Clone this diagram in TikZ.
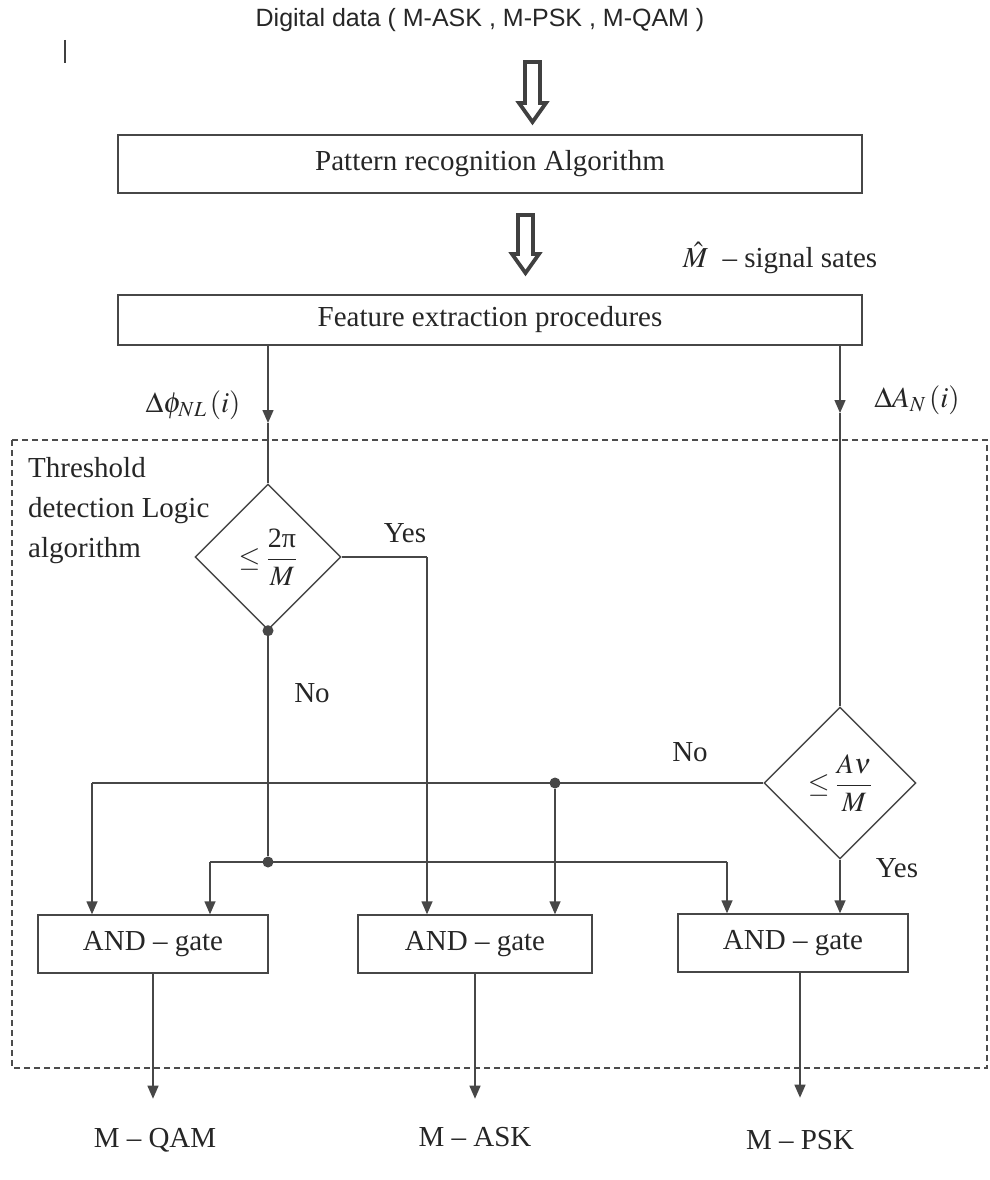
\documentclass[tikz,border=0pt]{standalone}
\usepackage{mathptmx}
\usepackage{fontspec}
\setmainfont{Liberation Serif}
\newfontfamily\arialfont{Liberation Sans}
\usetikzlibrary{shapes.geometric,arrows.meta,calc}
\begin{document}
\begin{tikzpicture}[x=1pt,y=-1pt,
  every node/.style={text=black!85},
  ln/.style={draw=black!72, line width=1.4pt},
  arr/.style={ln, -{Triangle[length=13pt,width=11pt]}},
  boxn/.style={draw=black!72, line width=1.4pt, rectangle, inner sep=0pt, font=\fontsize{29}{34}\selectfont},
  dia/.style={draw=black!72, line width=1.4pt, diamond, inner sep=0pt, aspect=1, font=\fontsize{28}{32}\selectfont},
  lab/.style={font=\fontsize{29}{34}\selectfont, inner sep=0pt},
  dotn/.style={circle, fill=black!72, inner sep=0pt, minimum size=11pt},
  hollow/.style={draw=black!75, line width=3.8pt, fill=white, line join=miter},
]
\useasboundingbox (0,0) rectangle (989,1180);

% title
\node[font=\arialfont\fontsize{25}{30}\selectfont, inner sep=0pt] (top) at (480,20) {Digital data ( M-ASK , M-PSK , M-QAM )};
\draw[draw=black!75, line width=1.5pt] (65,40) -- (65,63);

% hollow arrows
\draw[hollow] (525,62) -- (540,62) -- (540,103) -- (546,103) -- (532.5,122) -- (519,103) -- (525,103) -- cycle;
\draw[hollow] (518,215) -- (533,215) -- (533,254) -- (539,254) -- (525.5,273) -- (512,254) -- (518,254) -- cycle;

% boxes
\node[boxn, minimum width=744pt, minimum height=58pt] (pr) at (490,164) {Pattern recognition Algorithm};
\node[boxn, minimum width=744pt, minimum height=50pt] (fe) at (490,320) {Feature extraction procedures};

\node[lab] (mhat) at (780,258) {$\hat{M}$\ \ -- signal sates};

% dashed region
\draw[draw=black!70, line width=1.2pt, dash pattern=on 6pt off 4pt] (12,440) rectangle (987,1068);
\node[lab, anchor=north west, align=left, font=\fontsize{29}{40}\selectfont] (thr) at (28,457) {Threshold\\ detection Logic\\ algorithm};

% diamonds
\node[dia, minimum width=146pt, minimum height=146pt] (d1) at (268,557) {$\displaystyle\leq\frac{\mbox{2π}}{M}$};
\node[dia, minimum width=152pt, minimum height=152pt] (d2) at (840,783) {$\displaystyle\leq\frac{A\nu}{M}$};

% labels
\node[lab] (phil) at (193,405) {$\Delta\phi_{NL}\left(i\right)$};
\node[lab] (anl) at (917,400) {$\Delta A_{N}\left(i\right)$};
\node[lab] (yes1) at (405,533) {Yes};
\node[lab] (no1) at (312,693) {No};
\node[lab] (no2) at (690,752) {No};
\node[lab] (yes2) at (897,868) {Yes};

% gates
\node[boxn, minimum width=230pt, minimum height=58pt] (g1) at (153,944) {AND -- gate};
\node[boxn, minimum width=234pt, minimum height=58pt] (g2) at (475,944) {AND -- gate};
\node[boxn, minimum width=230pt, minimum height=58pt] (g3) at (793,943) {AND -- gate};

% outputs
\node[lab] (o1) at (155,1140) {M -- QAM};
\node[lab] (o2) at (475,1137) {M -- ASK};
\node[lab] (o3) at (800,1140) {M -- PSK};

% connectors from feature box
\coordinate (lm) at (268,423);
\coordinate (rm) at (840,413);
\draw[arr] (fe.south -| lm) -- (lm);
\draw[ln] (lm) -- (d1.north);
\draw[arr] (fe.south -| rm) -- (rm);
\draw[ln] (rm) -- (d2.north);

% junctions
\node[dotn] (j1) at (d1.south) {};
\node[dotn] (j2) at (268,862) {};
\node[dotn] (j3) at (555,783) {};

% yes of d1
\coordinate (ya) at (427,557);
\draw[ln] (d1.east) -- (ya);
\draw[arr] (ya) -- (ya |- g2.north);

% no of d1
\draw[ln] (j1) -- (j2);
\coordinate (la) at (210,862);
\coordinate (ra) at (727,862);
\draw[ln] (la) -- (ra);
\draw[arr] (la) -- (la |- g1.north);
\draw[arr] (ra) -- (ra |- g3.north);

% no of d2
\coordinate (lb) at (92,783);
\draw[ln] (d2.west) -- (lb);
\draw[arr] (lb) -- (lb |- g1.north);
\draw[arr] (j3) -- (j3 |- g2.north);

% yes of d2
\draw[arr] (d2.south) -- (d2.south |- g3.north);

% outputs arrows
\draw[arr] (g1.south) -- ++(0,125);
\draw[arr] (g2.south) -- ++(0,125);
\draw[arr] (g3.south -| o3) -- ++(0,125);
\end{tikzpicture}
\end{document}
